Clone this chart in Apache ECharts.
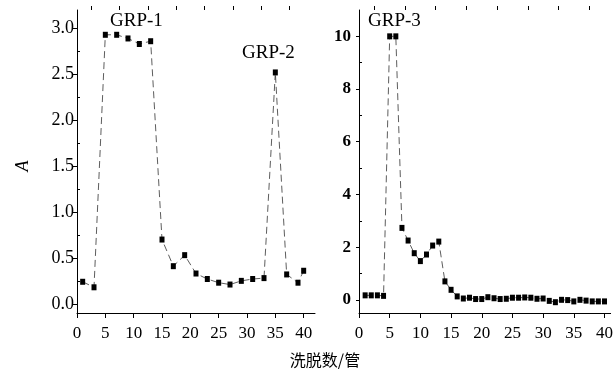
<!DOCTYPE html>
<html>
<head>
<meta charset="utf-8">
<script src="https://cdn.jsdelivr.net/npm/echarts@6/dist/echarts.min.js"></script>
<style>html,body{margin:0;padding:0;background:#fff}#c{width:616px;height:377px}</style>
</head>
<body>
<div id="c"></div>
<script>
// Left panel (GRP-1, GRP-2)
const tubesLeft = [1,3,5,7,9,11,13,15,17,19,21,23,25,27,29,31,33,35,37,39,40];
const absLeft = [0.24,0.18,2.93,2.93,2.89,2.83,2.86,0.70,0.41,0.53,0.33,0.27,0.23,0.21,0.25,0.27,0.28,2.52,0.32,0.23,0.36];
// Right panel (GRP-3)
const tubesRight = [1,2,3,4,5,6,7,8,9,10,11,12,13,14,15,16,17,18,19,20,21,22,23,24,25,26,27,28,29,30,31,32,33,34,35,36,37,38,39,40];
const absRight = [0.17,0.17,0.17,0.15,10.0,10.0,2.73,2.25,1.77,1.47,1.72,2.06,2.21,0.70,0.38,0.13,0.05,0.08,0.03,0.03,0.10,0.06,0.03,0.04,0.08,0.08,0.09,0.08,0.04,0.05,-0.04,-0.09,0.00,-0.01,-0.06,0.00,-0.03,-0.06,-0.06,-0.06];
// Tick labels
const xTicks = [0,5,10,15,20,25,30,35,40];
const xMinor = [2.5,7.5,12.5,17.5,22.5,27.5,32.5,37.5];
const yLeftTicks = [0,0.5,1.0,1.5,2.0,2.5,3.0];
const yLeftMinor = [0.25,0.75,1.25,1.75,2.25,2.75];
const yRightTicks = [0,2,4,6,8,10];
const yRightMinor = [1,3,5,7,9];
const groupLabels = ['GRP-1','GRP-2','GRP-3'];
const xName = '洗脱数/管';
const yName = 'A';

const serif = '"Liberation Serif","DejaVu Serif",serif';
const fmtL = v => v.toFixed(1);

function mainY(grid, min, max, ticks, fmt, opts) {
  return {
    type:'value', gridIndex:grid, min:min, max:max,
    splitLine:{show:false},
    axisLine:{show:true, lineStyle:{color:'#000', width:1}},
    axisTick:{show:true, customValues:ticks, length:opts.tick, lineStyle:{color:'#000'}},
    axisLabel:{customValues:ticks, formatter:fmt, margin:opts.margin, color:'#000',
      fontFamily:serif, fontSize:opts.size, fontWeight: opts.bold ? 'bold' : 'normal'}
  };
}
function minorY(grid, min, max, ticks) {
  return {
    type:'value', gridIndex:grid, min:min, max:max,
    splitLine:{show:false},
    axisLine:{show:false},
    axisTick:{show:true, customValues:ticks, length:3, lineStyle:{color:'#000'}},
    axisLabel:{show:false}
  };
}
function mainX(grid, max) {
  return {
    type:'value', gridIndex:grid, min:0, max:max,
    splitLine:{show:false},
    axisLine:{show:true, onZero:false, lineStyle:{color:'#000', width:1}},
    axisTick:{show:true, customValues:xTicks, length:5, lineStyle:{color:'#000'}},
    axisLabel:{customValues:xTicks, margin:12, color:'#000', fontFamily:serif, fontSize:17}
  };
}
function minorX(grid, max) {
  return {
    type:'value', gridIndex:grid, min:0, max:max,
    splitLine:{show:false},
    axisLine:{show:false, onZero:false},
    axisTick:{show:true, customValues:xMinor, length:4, lineStyle:{color:'#000'}},
    axisLabel:{show:false}
  };
}

const lineSeries = (xi, yi, xs, ys) => ({
  type:'line', xAxisIndex:xi, yAxisIndex:yi,
  data: xs.map((x,i)=>[x, ys[i]]),
  symbol:'rect', symbolSize:[5,6],
  itemStyle:{color:'#000'},
  lineStyle:{color:'#333', width:0.8, type:[7,4]},
  animation:false
});

const chart = echarts.init(document.getElementById('c'), null, {renderer:'canvas'});
chart.setOption({
  backgroundColor:'#fff',
  animation:false,
  grid:[
    {left:77, top:10, width:238, height:303},
    {left:359, top:10, width:256, height:303}
  ],
  xAxis:[ mainX(0,42), mainX(1,41), minorX(0,42), minorX(1,41) ],
  yAxis:[
    mainY(0,-0.1,3.2,yLeftTicks,fmtL,{tick:5,margin:3,size:18,bold:false}),
    mainY(1,-0.5,11,yRightTicks,v=>String(v),{tick:3,margin:8,size:17,bold:true}),
    minorY(0,-0.1,3.2,yLeftMinor),
    minorY(1,-0.5,11,yRightMinor)
  ],
  series:[
    lineSeries(0,0,tubesLeft,absLeft),
    lineSeries(1,1,tubesRight,absRight)
  ],
  graphic:[
    {type:'text', left:110, top:12, style:{text:groupLabels[0], fontFamily:serif, fontSize:19, fill:'#000'}},
    {type:'text', left:242, top:44, style:{text:groupLabels[1], fontFamily:serif, fontSize:19, fill:'#000'}},
    {type:'text', left:368, top:12, style:{text:groupLabels[2], fontFamily:serif, fontSize:19, fill:'#000'}},
    {type:'text', x:23, y:166, rotation:Math.PI/2, style:{text:yName, fontFamily:serif, fontStyle:'italic', fontSize:18, fill:'#000', align:'center', verticalAlign:'middle'}},
    {type:'text', x:325, y:360, style:{text:xName, fontFamily:'"Noto Sans CJK SC"', fontSize:16, fill:'#000', align:'center', verticalAlign:'middle'}}
  ]
});
</script>
</body>
</html>
